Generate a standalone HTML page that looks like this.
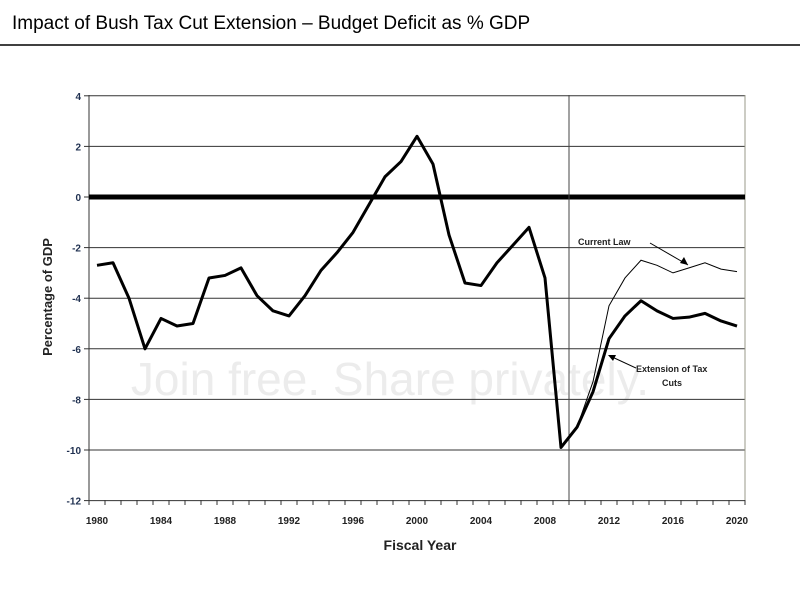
<!DOCTYPE html>
<html><head><meta charset="utf-8"><style>
body{margin:0;background:#fff;width:800px;height:600px;overflow:hidden;font-family:"Liberation Sans",Arial,sans-serif}
</style></head><body>
<svg id="s" width="800" height="600" xmlns="http://www.w3.org/2000/svg" font-family="Liberation Sans, Arial, sans-serif">
<text x="12" y="29" font-size="19" fill="#000">Impact of Bush Tax Cut Extension – Budget Deficit as % GDP</text>
<line x1="0" y1="45" x2="800" y2="45" stroke="#000" stroke-width="1.5"/>
<text x="390" y="395" font-size="46" fill="#ececec" text-anchor="middle">Join free. Share privately.</text>
<g id="g"></g>
</svg>
<script>
const g=document.getElementById('g');
const L=89,R=745,T=95,B=500;
const X=y=>97+16*(y-1980), Y=v=>197-25.3*v;
let h='';
for(let v=4;v>=-12;v-=2){const y=Y(v);
 if(v!==0)h+=`<line x1="${L}" y1="${y}" x2="${R}" y2="${y}" stroke="#333" stroke-width="1"/>`;
 h+=`<line x1="${L-5}" y1="${y}" x2="${L}" y2="${y}" stroke="#333"/>`;
 h+=`<text x="${L-8}" y="${y+4}" font-size="10" font-weight="bold" fill="#1f3050" text-anchor="end">${v}</text>`;}
h+=`<line x1="${L}" y1="${T}" x2="${L}" y2="${B}" stroke="#333"/>`;
h+=`<line x1="${R}" y1="${T}" x2="${R}" y2="${B}" stroke="#998"/>`;
for(let i=0;i<=41;i++){const x=L+16*i;h+=`<line x1="${x}" y1="${B}" x2="${x}" y2="${B+5}" stroke="#333"/>`;}
for(let yr=1980;yr<=2020;yr+=4)h+=`<text x="${X(yr)}" y="${B+24}" font-size="10" font-weight="bold" fill="#222" text-anchor="middle">${yr}</text>`;
h+=`<line x1="${L}" y1="${Y(0)}" x2="${R}" y2="${Y(0)}" stroke="#000" stroke-width="5"/>`;
h+=`<line x1="569" y1="${T}" x2="569" y2="${B}" stroke="#444"/>`;
const a=[-2.7,-2.6,-4.0,-6.0,-4.8,-5.1,-5.0,-3.2,-3.1,-2.8,-3.9,-4.5,-4.7,-3.9,-2.9,-2.2,-1.4,-0.3,0.8,1.4,2.4,1.3,-1.5,-3.4,-3.5,-2.6,-1.9,-1.2,-3.2,-9.9,-9.1,-7.7,-5.6,-4.7,-4.1,-4.5,-4.8,-4.75,-4.6,-4.9,-5.1];
const c=[-9.1,-7.3,-4.3,-3.2,-2.5,-2.7,-3.0,-2.8,-2.6,-2.85,-2.95];
h+=`<polyline fill="none" stroke="#000" stroke-width="1" points="${c.map((v,i)=>X(2010+i)+','+Y(v)).join(' ')}"/>`;
h+=`<polyline fill="none" stroke="#000" stroke-width="3" stroke-linejoin="round" points="${a.map((v,i)=>X(1980+i)+','+Y(v)).join(' ')}"/>`;
h+=`<text x="578" y="245" font-size="9" font-weight="bold" fill="#222">Current Law</text>`;
h+=`<line x1="650" y1="243" x2="688" y2="265" stroke="#000"/><polygon points="688,265 680,263 684,257" fill="#000"/>`;
h+=`<text x="636" y="372" font-size="9" font-weight="bold" fill="#222">Extension of Tax</text>`;
h+=`<text x="662" y="386" font-size="9" font-weight="bold" fill="#222">Cuts</text>`;
h+=`<line x1="636" y1="368" x2="610" y2="356" stroke="#000"/><polygon points="608,355 616,355 613,361" fill="#000"/>`;
h+=`<text x="420" y="550" font-size="14" font-weight="bold" fill="#222" text-anchor="middle">Fiscal Year</text>`;
h+=`<text transform="translate(52,297) rotate(-90)" font-size="13" font-weight="bold" fill="#222" text-anchor="middle">Percentage of GDP</text>`;
g.innerHTML=h;
</script>
</body></html>
